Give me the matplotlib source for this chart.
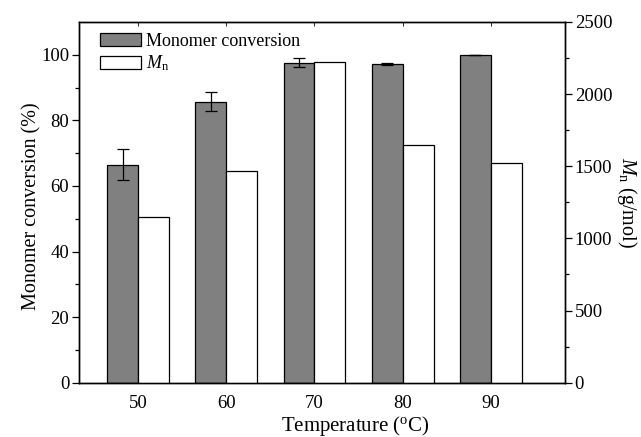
import matplotlib
matplotlib.use('Agg')
import matplotlib.pyplot as plt
from matplotlib.ticker import MultipleLocator, FixedLocator
import numpy as np

plt.rcParams['font.family'] = ['Liberation Serif', 'DejaVu Serif']
plt.rcParams['mathtext.fontset'] = 'custom'
plt.rcParams['mathtext.rm'] = 'Liberation Serif'
plt.rcParams['mathtext.it'] = 'Liberation Serif:italic'

# data
temps = [50, 60, 70, 80, 90]
conversion = [66.5, 85.7, 97.6, 97.3, 100.0]
conversion_err = [4.8, 2.9, 1.3, 0.3, 0.0]
mn = [1145, 1470, 2225, 1645, 1520]

bar_w = 3.5

fig = plt.figure(figsize=(6.41, 4.37), dpi=100)
ax = fig.add_axes([0.1232, 0.1243, 0.7582, 0.8254])
ax2 = ax.twinx()

x = np.array(temps, dtype=float)
h1 = ax.bar(x - bar_w / 2, conversion, bar_w, color='#808080',
            edgecolor='black', linewidth=0.9, label='Monomer conversion')
ax.errorbar(x - bar_w / 2, conversion, yerr=conversion_err, fmt='none',
            ecolor='black', elinewidth=0.9, capsize=4, capthick=0.9)
h2 = ax2.bar(x + bar_w / 2, mn, bar_w, color='white',
             edgecolor='black', linewidth=0.9, label=r'$M_\mathrm{n}$')

ax.set_xlim(43.3, 98.4)
ax.set_ylim(0, 110)
ax2.set_ylim(0, 2500)

ax.set_xticks(temps)
ax.set_xticklabels([str(t) for t in temps])
ax.yaxis.set_major_locator(FixedLocator([0, 20, 40, 60, 80, 100]))
ax.yaxis.set_minor_locator(FixedLocator([10, 30, 50, 70, 90]))
ax2.yaxis.set_major_locator(MultipleLocator(500))
ax2.yaxis.set_minor_locator(MultipleLocator(250))

ax.tick_params(axis='y', which='major', direction='out', length=5,
               width=0.9, labelsize=13.5, pad=2)
ax.tick_params(axis='y', which='minor', direction='out', length=3, width=0.9)
ax.tick_params(axis='x', which='major', direction='in', length=3,
               width=0.6, labelsize=13.5, pad=9, top=True)
ax2.tick_params(axis='y', which='major', direction='out', length=5,
                width=0.9, labelsize=13.5, pad=2)
ax2.tick_params(axis='y', which='minor', direction='out', length=3, width=0.9)

for a in (ax, ax2):
    for s in a.spines.values():
        s.set_linewidth(1.0)

ax.set_xlabel(r'Temperature ($^\mathrm{o}$C)', fontsize=15)
ax.xaxis.set_label_coords(0.568, -0.088)
ax.set_ylabel('Monomer conversion (%)', fontsize=14.5)
ax.yaxis.set_label_coords(-0.078, 0.49)
ax2.set_ylabel(r'$M_\mathrm{n}$ (g/mol)', fontsize=14.5, rotation=270,
               labelpad=19)

ax2.legend(handles=[h1, h2], loc='upper left', frameon=False,
           fontsize=13, handlelength=2.3, handleheight=0.75,
           handletextpad=0.3, labelspacing=0.2,
           borderaxespad=0.2, bbox_to_anchor=(0.02, 1.0))

fig.savefig('out.png', dpi=100)
